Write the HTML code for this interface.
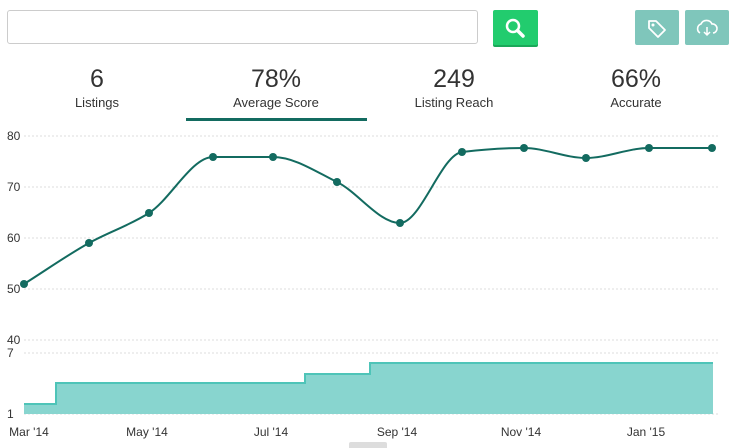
<!DOCTYPE html>
<html><head><meta charset="utf-8"><style>
body{margin:0;width:738px;height:448px;background:#fff;font-family:"Liberation Sans",sans-serif;overflow:hidden;position:relative}
.abs{position:absolute}
.stat{position:absolute;top:64px;width:180px;text-align:center;color:#333}
.stat .n{font-size:25px;line-height:30px}
.stat .l{font-size:13px;margin-top:1px}
</style></head><body>
<div class="abs" style="left:7px;top:10px;width:469px;height:32px;border:1px solid #ccc;border-radius:3px"></div>
<div class="abs" style="left:493px;top:10px;width:45px;height:35px;background:#22cc6e;border-radius:2px;box-shadow:0 2px 0 #1aa859">
<svg width="45" height="35"><circle cx="20" cy="16" r="6" fill="none" stroke="#fff" stroke-width="2.5"/><line x1="24.5" y1="20.5" x2="30" y2="26" stroke="#fff" stroke-width="3.5" stroke-linecap="round"/></svg></div>
<div class="abs" style="left:635px;top:10px;width:44px;height:35px;background:#7fc6bb;border-radius:2px">
<svg width="44" height="35"><path d="M14 11 L21 11 L30 20 L23 27 L14 18 Z" fill="none" stroke="#fff" stroke-width="1.8" stroke-linejoin="round"/><circle cx="18" cy="15" r="1.5" fill="#fff"/></svg></div>
<div class="abs" style="left:685px;top:10px;width:44px;height:35px;background:#7fc6bb;border-radius:2px">
<svg width="44" height="35"><path d="M15 23 A5 5 0 0 1 16 14 A6 6 0 0 1 27 14 A4.5 4.5 0 0 1 28 23" fill="none" stroke="#fff" stroke-width="1.6"/><path d="M22 17 V25 M19 22 L22 25 L25 22" fill="none" stroke="#fff" stroke-width="1.5"/></svg></div>
<div class="stat" style="left:7px"><div class="n">6</div><div class="l">Listings</div></div>
<div class="stat" style="left:186px"><div class="n">78%</div><div class="l">Average Score</div></div>
<div class="stat" style="left:364px"><div class="n">249</div><div class="l">Listing Reach</div></div>
<div class="stat" style="left:546px"><div class="n">66%</div><div class="l">Accurate</div></div>
<div class="abs" style="left:186px;top:118px;width:181px;height:3px;background:#136b60"></div>
<svg class="abs" style="left:0;top:0" width="738" height="448" font-family="Liberation Sans" font-size="12" fill="#333">
<g stroke="#ddd" stroke-dasharray="2,2">
<line x1="24" y1="136" x2="718" y2="136"/><line x1="24" y1="187" x2="718" y2="187"/><line x1="24" y1="238" x2="718" y2="238"/><line x1="24" y1="289" x2="718" y2="289"/><line x1="24" y1="340" x2="718" y2="340"/><line x1="24" y1="353" x2="718" y2="353"/><line x1="24" y1="414" x2="718" y2="414"/></g>
<text x="7" y="140">80</text><text x="7" y="191">70</text><text x="7" y="242">60</text><text x="7" y="293">50</text><text x="7" y="344">40</text><text x="7" y="357">7</text><text x="7" y="418">1</text>
<path d="M24 414 V404 H56 V383 H305 V374 H370 V363 H713 V414 Z" fill="#88d5cf"/>
<path d="M24 404 H56 V383 H305 V374 H370 V363 H713" fill="none" stroke="#4ec4b8" stroke-width="2"/>
<path id="ln" fill="none" stroke="#136b60" stroke-width="2"/>
<g id="pts" fill="#136b60"></g>
<g font-size="12" text-anchor="middle"><text x="29" y="436">Mar '14</text><text x="147" y="436">May '14</text><text x="271" y="436">Jul '14</text><text x="397" y="436">Sep '14</text><text x="521" y="436">Nov '14</text><text x="646" y="436">Jan '15</text></g>
<rect x="349" y="442" width="38" height="8" rx="2" fill="#ddd"/>
</svg>
<script>
var P=[[24,284],[89,243],[149,213],[213,157],[273,157],[337,182],[400,223],[462,152],[524,148],[586,158],[649,148],[712,148]];
var n=P.length,d=[],m=[];
for(var i=0;i<n-1;i++)d.push((P[i+1][1]-P[i][1])/(P[i+1][0]-P[i][0]));
for(i=0;i<n;i++){if(i==0)m.push(d[0]);else if(i==n-1)m.push(d[n-2]);else if(d[i-1]*d[i]<=0)m.push(0);else{var h0=P[i][0]-P[i-1][0],h1=P[i+1][0]-P[i][0];m.push(3*(h0+h1)/((2*h1+h0)/d[i-1]+(h1+2*h0)/d[i]));}}
var s="M"+P[0];
for(i=0;i<n-1;i++){var h=(P[i+1][0]-P[i][0])/3;s+=" C"+(P[i][0]+h)+","+(P[i][1]+m[i]*h)+" "+(P[i+1][0]-h)+","+(P[i+1][1]-m[i+1]*h)+" "+P[i+1];}
document.getElementById("ln").setAttribute("d",s);
var g=document.getElementById("pts"),t="";
P.forEach(function(p){t+='<circle cx="'+p[0]+'" cy="'+p[1]+'" r="4"/>';});
g.innerHTML=t;
</script>
</body></html>
